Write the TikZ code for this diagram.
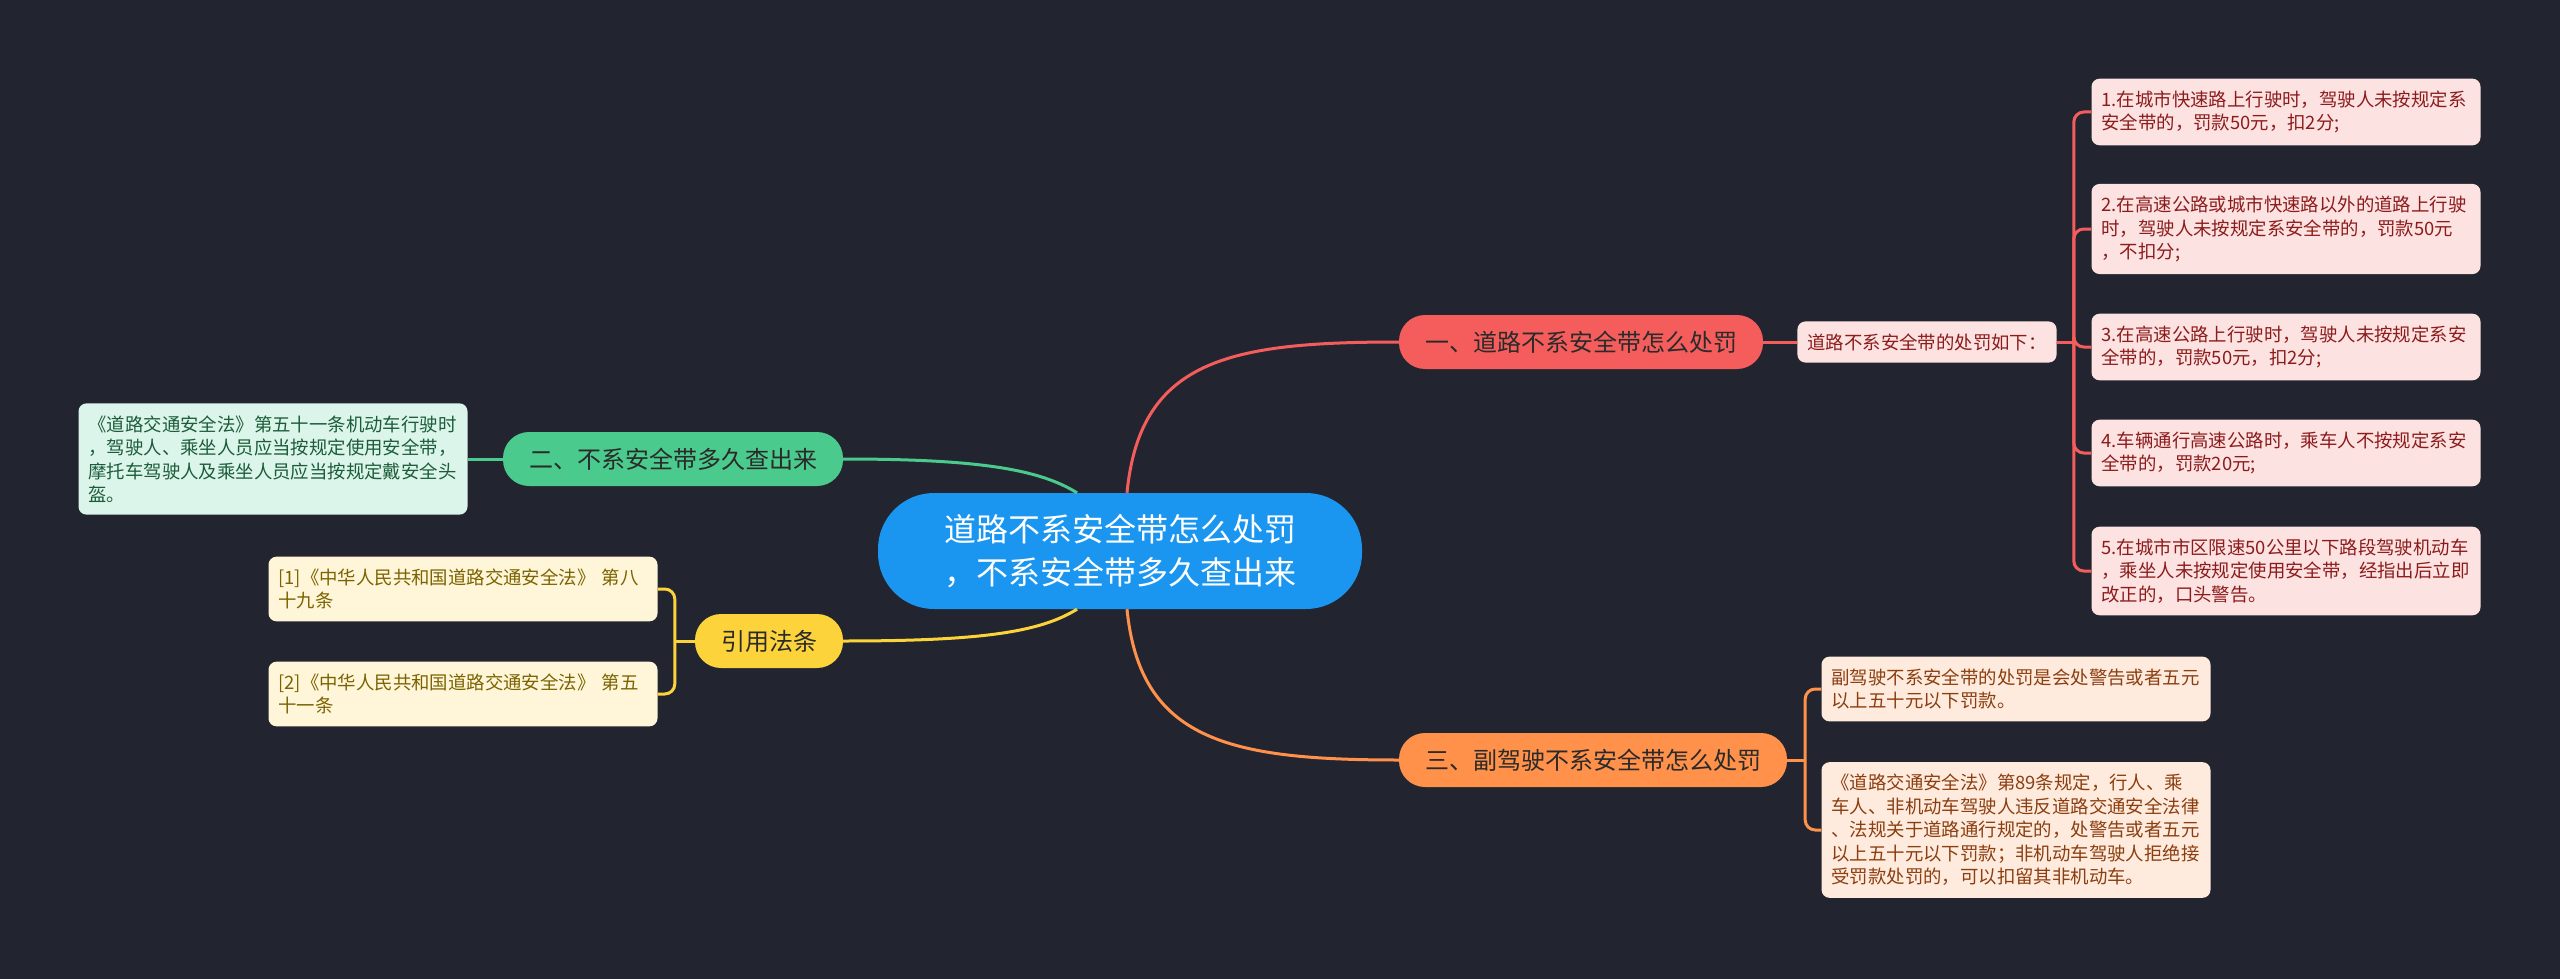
\documentclass[tikz,border=0pt]{standalone}
\usepackage{fontspec}
\setmainfont{Noto Sans CJK SC}
\usetikzlibrary{calc}

\definecolor{bgcol}{HTML}{22252F}
\definecolor{rootcol}{HTML}{1A96F0}
\definecolor{redcol}{HTML}{F55D5D}
\definecolor{redfill}{HTML}{FDE2E2}
\definecolor{redtext}{HTML}{8C1C1C}
\definecolor{greencol}{HTML}{4BCA8D}
\definecolor{greenfill}{HTML}{DCF5EA}
\definecolor{greentext}{HTML}{1D5C3A}
\definecolor{yellowcol}{HTML}{FDD33C}
\definecolor{yellowfill}{HTML}{FFF6DA}
\definecolor{yellowtext}{HTML}{7B6300}
\definecolor{orangecol}{HTML}{FF914A}
\definecolor{orangefill}{HTML}{FFEBDD}
\definecolor{orangetext}{HTML}{8B3E10}
\definecolor{branchtext}{HTML}{2A2A2A}

\begin{document}
\begin{tikzpicture}[x=1pt, y=-1pt,
    rootbox/.style={fill=rootcol, rounded corners=56pt, minimum height=116pt,
        inner xsep=66pt, align=center, text=white,
        font=\fontsize{32pt}{43pt}\selectfont},
    branchbox/.style={rounded corners=26pt, minimum height=54pt, inner xsep=26pt,
        inner ysep=0pt, text=branchtext, font=\fontsize{24pt}{30pt}\selectfont},
    leafbox/.style={rounded corners=8pt, text width=369pt, inner xsep=10pt,
        inner ysep=12pt, align=left, font=\fontsize{18.4pt}{23.5pt}\selectfont},
    redleaf/.style={leafbox, fill=redfill, text=redtext},
    greenleaf/.style={leafbox, fill=greenfill, text=greentext},
    yellowleaf/.style={leafbox, fill=yellowfill, text=yellowtext},
    orangeleaf/.style={leafbox, fill=orangefill, text=orangetext},
    link/.style={line width=3pt},
    bracket/.style={link, rounded corners=10pt}]

    % Background
    \fill [bgcol] (0, 0) rectangle (2560, 979);
    \useasboundingbox (0, 0) rectangle (2560, 979);

    % Root
    \node [rootbox] (root) at (1120, 551) {道路不系安全带怎么处罚\\，不系安全带多久查出来};

    % Branches
    \node [branchbox, fill=redcol] (penalty) at (1581, 342) {一、道路不系安全带怎么处罚};
    \node [branchbox, fill=greencol] (detect) at (673, 459) {二、不系安全带多久查出来};
    \node [branchbox, fill=yellowcol] (laws) at (769, 641) {引用法条};
    \node [branchbox, fill=orangecol] (copilot) at (1593, 760) {三、副驾驶不系安全带怎么处罚};

    % Penalty details
    \node [leafbox, fill=redfill, text=redtext, text width=, align=left] (intro) at (1927, 342) {道路不系安全带的处罚如下：};
    \node [redleaf] (pA) at (2286, 112) {1.在城市快速路上行驶时，驾驶人未按规定系\\安全带的，罚款50元，扣2分;};
    \node [redleaf] (pB) at (2286, 229) {2.在高速公路或城市快速路以外的道路上行驶\\时，驾驶人未按规定系安全带的，罚款50元\\，不扣分;};
    \node [redleaf] (pC) at (2286, 347) {3.在高速公路上行驶时，驾驶人未按规定系安\\全带的，罚款50元，扣2分;};
    \node [redleaf] (pD) at (2286, 453) {4.车辆通行高速公路时，乘车人不按规定系安\\全带的，罚款20元;};
    \node [redleaf] (pE) at (2286, 571) {5.在城市市区限速50公里以下路段驾驶机动车\\，乘坐人未按规定使用安全带，经指出后立即\\改正的，口头警告。};

    % Detection detail
    \node [greenleaf] (dA) at (273, 459) {《道路交通安全法》第五十一条机动车行驶时\\，驾驶人、乘坐人员应当按规定使用安全带，\\摩托车驾驶人及乘坐人员应当按规定戴安全头\\盔。};

    % Law references
    \node [yellowleaf] (lA) at (463, 589) {[1]《中华人民共和国道路交通安全法》 第八\\十九条};
    \node [yellowleaf] (lB) at (463, 694) {[2]《中华人民共和国道路交通安全法》 第五\\十一条};

    % Co-pilot details
    \node [orangeleaf] (cA) at (2016, 689) {副驾驶不系安全带的处罚是会处警告或者五元\\以上五十元以下罚款。};
    \node [orangeleaf] (cB) at (2016, 830) {《道路交通安全法》第89条规定，行人、乘\\车人、非机动车驾驶人违反道路交通安全法律\\、法规关于道路通行规定的，处警告或者五元\\以上五十元以下罚款；非机动车驾驶人拒绝接\\受罚款处罚的，可以扣留其非机动车。};

    % Root links
    \draw [link, redcol] ($(root.north)+(7, 0)$) .. controls +(13, -133) and +(-170, 0) .. (penalty.west);
    \draw [link, greencol] ($(root.north)+(-43, 0)$) .. controls +(-37, -23) and +(138, 0) .. (detect.east);
    \draw [link, yellowcol] ($(root.south)+(-43, 0)$) .. controls +(-37, 23) and +(138, 0) .. (laws.east);
    \draw [link, orangecol] ($(root.south)+(7, 0)$) .. controls +(13, 131) and +(-170, 0) .. (copilot.west);

    % Brackets
    \draw [link, redcol] (penalty.east) -- (intro.west);
    \coordinate (rj) at ($(intro.east)+(17, 0)$);
    \draw [link, redcol] (intro.east) -- (rj);
    \foreach \p in {pA, pB, pC, pD, pE}
        \draw [bracket, redcol] (rj) |- (\p.west);

    \draw [link, greencol] (dA.east) -- (detect.west);

    \coordinate (yj) at ($(laws.west)+(-20, 0)$);
    \draw [link, yellowcol] (laws.west) -- (yj);
    \foreach \p in {lA, lB}
        \draw [bracket, yellowcol] (yj) |- (\p.east);

    \coordinate (oj) at ($(copilot.east)+(18, 0)$);
    \draw [link, orangecol] (copilot.east) -- (oj);
    \foreach \p in {cA, cB}
        \draw [bracket, orangecol] (oj) |- (\p.west);
\end{tikzpicture}
\end{document}
